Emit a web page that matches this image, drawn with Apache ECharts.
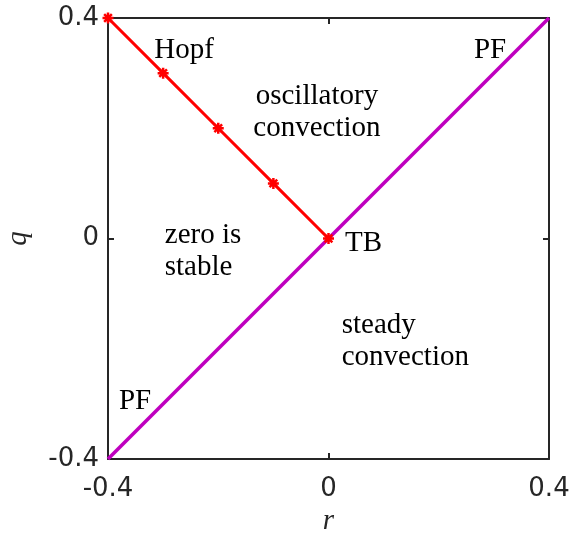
<!DOCTYPE html>
<html>
<head>
<meta charset="utf-8">
<script src="https://cdn.jsdelivr.net/npm/echarts@6/dist/echarts.min.js"></script>
<style>
  html, body { margin: 0; padding: 0; background: #fff; }
  #main { width: 571px; height: 541px; }
</style>
</head>
<body>
<div id="main"></div>
<script type="text/javascript">
    // Hopf line (r, q) with markers
    var hopfR = [-0.4, -0.3, -0.2, -0.1, 0];
    var hopfQ = [0.4, 0.3, 0.2, 0.1, 0];
    // PF line
    var pfR = [-0.4, 0.4];
    var pfQ = [-0.4, 0.4];
    var tickVals = [-0.4, 0, 0.4];

    // region labels: text, r, q, align
    var noteText = ['Hopf', 'oscillatory\nconvection', 'zero is\nstable', 'TB', 'steady\nconvection', 'PF', 'PF'];
    var noteR = [-0.262, -0.021, -0.297, 0.03, 0.024, 0.293, -0.351];
    var noteQ = [0.342, 0.228, -0.024, -0.008, -0.186, 0.342, -0.295];
    var noteAlign = ['center', 'center', 'left', 'left', 'left', 'center', 'center'];

    var axisCol = '#262626';
    var tickFont = { fontFamily: 'DejaVu Sans', fontSize: 26, color: axisCol };

    function zip(a, b) {
        var out = [];
        for (var i = 0; i < a.length; i++) out.push([a[i], b[i]]);
        return out;
    }

    function mkAxis(pos, showLabel, name, nameGap, rot, margin) {
        return {
            type: 'value',
            position: pos,
            min: -0.4, max: 0.4, interval: 0.4,
            name: name,
            nameLocation: 'middle',
            nameGap: nameGap,
            nameRotate: rot,
            nameTextStyle: { fontFamily: 'Liberation Serif', fontStyle: 'italic', fontSize: 29, color: axisCol },
            axisLine: { show: true, onZero: false, lineStyle: { color: axisCol, width: 2 } },
            axisTick: { show: true, inside: true, length: 6, lineStyle: { color: axisCol, width: 2 } },
            axisLabel: Object.assign({
                show: showLabel,
                margin: margin,
                formatter: function (v) { return v === 0 ? '0' : String(v); }
            }, tickFont),
            splitLine: { show: false }
        };
    }

    var myChart = echarts.init(document.getElementById('main'));

    var option = {
        backgroundColor: '#fff',
        animation: false,
        grid: { left: 108, top: 18, width: 441, height: 441, containLabel: false, outerBoundsMode: 'none' },
        xAxis: [
            mkAxis('bottom', true, 'r', 48, 0, 17),
            mkAxis('top', false, '', 0, 0, 8)
        ],
        yAxis: [
            mkAxis('left', true, 'q', 75, 90, 9),
            mkAxis('right', false, '', 0, 0, 8)
        ],
        series: [
            {
                name: 'PF',
                type: 'line',
                data: zip(pfR, pfQ),
                showSymbol: false,
                lineStyle: { color: '#bf00bf', width: 3.5 },
                z: 2
            },
            {
                name: 'Hopf',
                type: 'line',
                data: zip(hopfR, hopfQ),
                symbol: 'path://M0,-10L0,10M-10,0L10,0M-7,-7L7,7M-7,7L7,-7',
                symbolSize: 11,
                itemStyle: { color: '#ff0000', borderColor: '#ff0000', borderWidth: 2.5 },
                lineStyle: { color: '#ff0000', width: 3 },
                z: 3
            }
        ]
    };
    myChart.setOption(option);

    // place the region labels in data coordinates
    var els = [];
    for (var i = 0; i < noteText.length; i++) {
        var p = myChart.convertToPixel({ gridIndex: 0 }, [noteR[i], noteQ[i]]);
        els.push({
            type: 'text',
            x: p[0], y: p[1],
            style: {
                text: noteText[i],
                fontFamily: 'Liberation Serif',
                fontSize: 29,
                lineHeight: 32,
                fill: '#000',
                align: noteAlign[i],
                verticalAlign: 'middle'
            },
            z: 10
        });
    }
    myChart.setOption({ graphic: els });
</script>
</body>
</html>
